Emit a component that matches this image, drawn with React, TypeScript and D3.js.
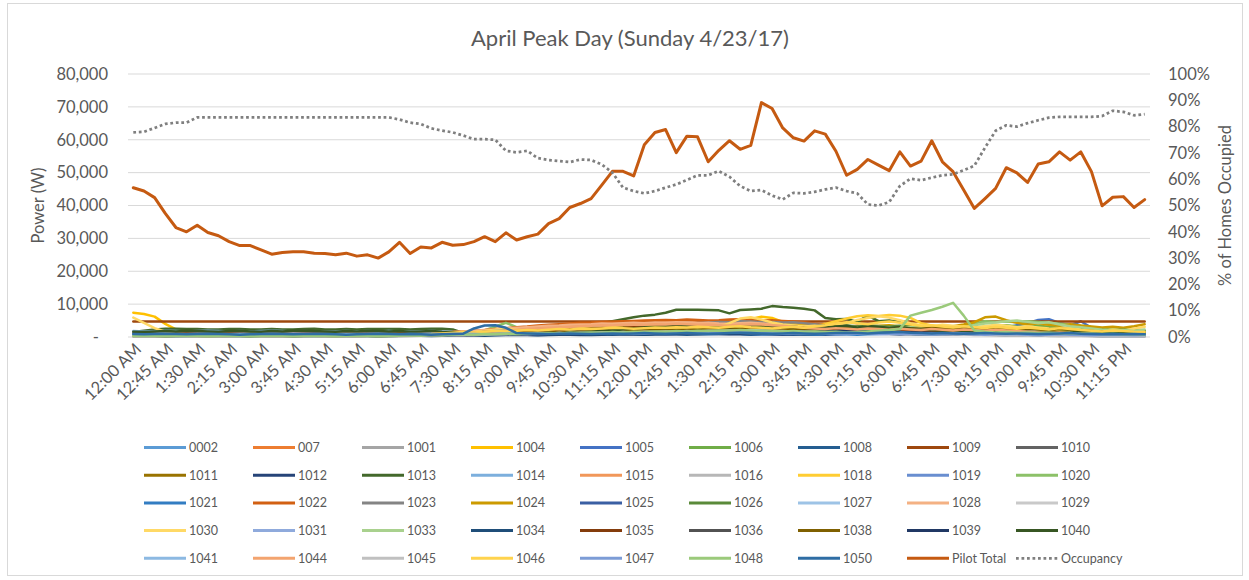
import React from 'react';
import * as d3 from 'd3';

const times = [
  "12:00 AM","12:15 AM","12:30 AM","12:45 AM","1:00 AM","1:15 AM","1:30 AM","1:45 AM","2:00 AM","2:15 AM","2:30 AM","2:45 AM",
  "3:00 AM","3:15 AM","3:30 AM","3:45 AM","4:00 AM","4:15 AM","4:30 AM","4:45 AM","5:00 AM","5:15 AM","5:30 AM","5:45 AM",
  "6:00 AM","6:15 AM","6:30 AM","6:45 AM","7:00 AM","7:15 AM","7:30 AM","7:45 AM","8:00 AM","8:15 AM","8:30 AM","8:45 AM",
  "9:00 AM","9:15 AM","9:30 AM","9:45 AM","10:00 AM","10:15 AM","10:30 AM","10:45 AM","11:00 AM","11:15 AM","11:30 AM","11:45 AM",
  "12:00 PM","12:15 PM","12:30 PM","12:45 PM","1:00 PM","1:15 PM","1:30 PM","1:45 PM","2:00 PM","2:15 PM","2:30 PM","2:45 PM",
  "3:00 PM","3:15 PM","3:30 PM","3:45 PM","4:00 PM","4:15 PM","4:30 PM","4:45 PM","5:00 PM","5:15 PM","5:30 PM","5:45 PM",
  "6:00 PM","6:15 PM","6:30 PM","6:45 PM","7:00 PM","7:15 PM","7:30 PM","7:45 PM","8:00 PM","8:15 PM","8:30 PM","8:45 PM",
  "9:00 PM","9:15 PM","9:30 PM","9:45 PM","10:00 PM","10:15 PM","10:30 PM","10:45 PM","11:00 PM","11:15 PM","11:30 PM","11:45 PM"
];

const leftTicks = [0, 10000, 20000, 30000, 40000, 50000, 60000, 70000, 80000];
const rightTicks = [0, 0.1, 0.2, 0.3, 0.4, 0.5, 0.6, 0.7, 0.8, 0.9, 1];

const pilotTotal = [
  45400,44400,42400,37600,33300,32000,34000,31800,30800,29000,27800,27800,
  26500,25200,25700,25900,25900,25500,25400,25000,25500,24600,25000,24000,
  25900,28800,25400,27400,27100,28800,27900,28100,29000,30500,29000,31700,
  29500,30500,31300,34500,36000,39400,40600,42100,46200,50400,50400,49000,
  58500,62200,63100,56100,61100,60900,53300,56800,59700,57100,58300,71300,
  69500,63600,60600,59600,62700,61700,56500,49200,51000,54000,52300,50600,
  56300,52000,53500,59700,53300,50300,44700,39100,42100,45200,51500,49900,
  47000,52600,53300,56300,53800,56300,50300,39900,42500,42700,39400,41800
];

const occupancy = [
  0.778,0.78,0.795,0.81,0.815,0.815,0.835,0.835,0.835,0.835,0.835,0.835,
  0.835,0.835,0.835,0.835,0.835,0.835,0.835,0.835,0.835,0.835,0.835,0.835,
  0.835,0.827,0.815,0.81,0.793,0.785,0.778,0.766,0.752,0.752,0.75,0.708,
  0.702,0.708,0.68,0.673,0.669,0.665,0.675,0.673,0.656,0.625,0.568,0.555,
  0.546,0.555,0.568,0.58,0.597,0.615,0.615,0.631,0.609,0.574,0.555,0.559,
  0.538,0.523,0.548,0.546,0.552,0.561,0.568,0.555,0.546,0.504,0.5,0.513,
  0.574,0.602,0.596,0.606,0.615,0.619,0.634,0.651,0.72,0.784,0.805,0.8,
  0.813,0.824,0.834,0.837,0.837,0.837,0.837,0.84,0.86,0.856,0.843,0.847
];

const h0002 = [
  1100,1000,900,900,800,800,900,900,800,800,900,900,800,800,800,900,900,800,800,800,900,900,800,800,
  800,900,900,1000,1000,900,900,1000,1100,1000,900,900,1000,1100,1200,1200,1100,1000,1000,1100,1200,1200,1300,1300,
  1300,1200,1200,1300,1300,1200,1200,1100,1100,1200,1200,1300,1300,1200,1200,1100,1100,1000,1000,1100,1100,1200,1200,1100,
  1100,1000,1000,1100,1100,1000,1000,900,900,1000,1000,900,900,1000,1000,900,900,800,800,900,900,800,800,900
];
const h007 = [
  500,500,400,400,400,400,500,500,400,400,300,300,400,400,400,300,300,400,400,400,300,300,400,400,
  400,400,500,500,400,400,500,600,600,700,800,900,1000,1200,1400,1600,1900,2200,2500,2700,2900,3000,3200,3300,
  3400,3500,3400,3300,3500,3600,3400,3300,3200,3400,3500,3300,3100,2800,2500,2200,1900,1700,1600,1800,2000,2300,2500,2400,
  2200,2000,1800,1600,1400,1200,1100,1000,900,900,800,800,700,700,600,600,600,500,500,600,600,500,500,500
];
const h1001 = [
  300,300,300,200,200,300,300,300,200,200,300,300,300,200,200,300,300,300,200,200,300,300,300,200,
  200,300,300,400,400,500,600,700,800,900,900,1000,1100,1200,1200,1300,1400,1500,1600,1700,1800,1900,2000,2100,
  2200,2300,2400,2500,2600,2700,2800,2900,3000,3100,3000,2900,2800,2700,2500,2300,2100,1900,1800,1700,1600,1500,1400,1300,
  1200,1100,1000,900,900,800,800,700,700,600,600,600,500,500,500,400,400,400,300,300,300,300,300,300
];
const h1004 = [
  7400,7000,6200,4000,2300,1500,1200,1000,900,800,800,700,700,800,700,600,600,700,600,600,700,600,600,700,
  600,700,800,700,900,800,1000,1200,1100,1300,1500,1800,1600,1900,2100,2000,2400,2200,2600,2500,2800,3000,2700,2900,
  3100,2800,2600,2900,3300,3000,2700,2500,2900,3800,5500,6200,5800,4600,3900,4100,3600,3200,3000,3400,3100,2800,2600,2900,
  2700,2300,2000,2200,1800,1500,1300,1600,1400,1200,1100,1300,1000,900,1000,800,900,700,800,900,700,600,700,800
];
const h1005 = [
  400,500,400,400,300,400,500,400,300,400,400,300,400,500,400,300,400,400,500,400,300,400,400,300,
  400,500,500,600,700,600,800,900,800,700,600,700,900,1000,800,900,1100,1000,1200,1100,1300,1200,1100,1300,
  1400,1200,1100,1300,1200,1400,1500,1300,1200,1400,1300,1100,1200,1500,1400,1200,1100,1300,1500,1400,1600,1500,1300,1400,
  1600,1800,1500,1700,1600,1400,1500,1800,2000,2400,2900,3600,4200,5200,5400,4300,3500,4800,2800,1200,900,800,700,800
];
const h1006 = [
  600,500,500,600,500,400,500,600,500,500,400,500,600,500,400,500,600,500,500,400,500,600,500,500,
  600,500,600,700,600,800,700,900,1100,1600,2400,2000,1400,1200,1300,1500,1400,1600,1800,1700,1900,2100,2000,2200,
  2400,2300,3300,2600,2200,2400,2300,2100,2500,2700,2400,2200,2600,2800,2500,2300,2100,2400,2600,2900,2700,2500,2800,3000,
  3200,2800,2600,2400,2200,2500,2700,2400,2900,3300,3600,3200,3000,3400,3100,2800,2600,2400,2100,1900,2200,2000,1800,1700
];
const h1008 = [
  700,600,600,700,600,500,600,700,600,600,500,600,700,600,500,600,700,600,600,500,600,700,600,600,
  700,600,700,600,800,700,900,1000,900,800,700,900,800,700,600,700,800,700,600,700,800,700,900,800,
  700,800,900,800,700,800,900,1000,900,800,700,800,900,800,700,900,800,1000,1100,1200,1100,1300,1200,1000,
  900,1100,1300,1200,1000,900,800,900,1000,900,800,700,800,900,800,700,600,700,800,700,600,700,600,700
];
const h1009 = [
  4750,4750,4750,4750,4750,4750,4750,4750,4750,4750,4750,4750,
  4750,4750,4750,4750,4750,4750,4750,4750,4750,4750,4750,4750,
  4750,4750,4750,4750,4750,4750,4750,4750,4750,4750,4750,4750,
  4750,4750,4750,4750,4750,4750,4750,4750,4750,4750,4750,4750,
  4750,4750,4750,4750,4750,4750,4750,4750,4750,4750,4750,4750,
  4750,4750,4750,4750,4750,4750,4750,4750,4750,4750,4750,4750,
  4750,4750,4750,4750,4750,4750,4750,4750,4750,4750,4750,4750,
  4750,4750,4750,4750,4750,4750,4750,4750,4750,4750,4750,4750
];
const h1010 = [
  800,700,800,900,800,700,800,700,800,900,800,700,800,700,800,900,800,700,800,700,800,900,800,700,
  800,700,900,800,1000,900,1100,1200,1100,1300,1500,1400,1600,1900,2200,2500,2800,3100,3400,3600,3800,3700,3900,4100,
  4200,4000,4300,4400,4200,4500,4300,4100,4400,4600,4300,4200,4000,3800,3500,3200,2900,2600,2400,2700,2500,2300,2600,2400,
  2200,2000,2300,2100,1900,1700,1500,1400,1300,1200,1100,1200,1000,900,1000,900,800,900,800,700,800,700,800,700
];
const h1011 = [
  500,400,500,400,500,600,500,400,500,400,500,600,500,400,500,400,500,600,500,400,500,400,500,600,
  500,400,600,500,700,600,800,700,900,800,1000,1200,1100,1300,1500,1400,1600,1800,1700,1900,2100,2000,2200,2400,
  2300,2500,2700,2600,2800,3000,2900,2700,2600,2800,3100,2900,2700,2500,2300,2600,2400,2200,2000,2300,2100,1900,2200,2000,
  1800,2100,1900,1700,2000,1800,1600,1900,1700,1500,1800,1600,1400,1300,1500,1200,1100,1000,900,800,900,800,700,800
];
const h1012 = [
  900,800,800,900,800,700,800,900,800,800,700,800,900,800,700,800,900,800,800,700,800,900,800,800,
  700,800,900,800,900,1000,900,700,600,700,800,900,800,700,800,900,800,700,800,900,1000,900,800,900,
  1000,900,800,900,1000,1100,1000,900,800,900,1000,900,800,700,800,900,800,700,800,900,1000,1100,1000,900,
  800,900,1000,900,800,700,800,900,800,700,800,900,800,700,800,700,600,700,800,700,600,700,800,700
];
const h1013 = [
  1500,1900,2300,2500,2500,2400,2400,2300,2300,2400,2400,2300,
  2300,2400,2300,2300,2400,2500,2300,2300,2400,2300,2400,2400,
  2400,2400,2300,2400,2500,2500,2300,1200,1000,1500,1500,1400,
  1300,1300,1400,1500,1800,2300,2900,3500,4200,4800,5400,6000,
  6500,6800,7400,8300,8300,8300,8200,8100,7200,8200,8400,8600,
  9400,9100,8900,8600,8100,5800,5400,5500,4600,6500,4800,5000,
  4600,3600,2800,2400,1900,1800,1600,1500,1400,1500,1600,1500,
  1400,1500,1500,1400,1500,1400,1300,1400,1500,1400,1300,1300
];
const h1014 = [
  1800,1700,1800,1900,1800,1700,1800,1900,1800,1700,1800,1700,1800,1900,1800,1700,1800,1700,1600,1700,1800,1700,1800,1700,
  1800,1700,1600,1700,1800,1700,1500,1200,1100,1000,1100,1200,1300,1200,1100,1200,1300,1400,1300,1200,1400,1500,1400,1600,
  1500,1700,1600,1800,1700,1600,1500,1700,1600,1800,1700,1900,1800,1600,1700,1500,1600,1400,1500,1700,1600,1800,1700,1500,
  1600,1400,1500,1300,1400,1600,1500,1700,1600,1800,1700,1900,1800,1600,1700,1500,1400,1600,1500,1300,1400,1200,1300,1400
];
const h1015 = [
  400,300,400,300,400,500,400,300,400,300,400,500,400,300,400,300,400,500,400,300,400,300,400,500,
  400,500,600,500,700,800,900,1100,1300,1500,1800,2000,2200,2500,2700,3000,3200,3500,3700,3900,4000,4200,4100,4300,
  4400,4200,4500,4300,4600,4400,4200,4500,4300,4100,4400,4200,3900,3700,3400,3100,2800,2500,2300,2100,2400,2200,2000,1800,
  1700,1900,1600,1500,1400,1300,1200,1400,1300,1100,1000,1200,1100,900,800,700,800,600,700,600,500,600,500,400
];
const h1016 = [
  200,300,300,200,200,300,200,200,300,300,200,200,300,200,300,300,200,200,300,200,200,300,300,200,
  300,200,400,500,400,600,500,700,600,800,900,700,800,1000,900,1100,1200,1000,1300,1100,1400,1200,1500,1300,
  1600,1400,1700,1500,1800,1600,1900,1700,2000,1800,2100,1900,1700,1800,1600,1500,1700,1400,1300,1500,1200,1100,1300,1000,
  1100,900,1000,800,900,700,800,600,700,500,600,400,500,600,400,300,400,500,300,200,300,400,300,200
];
const h1018 = [
  600,500,600,700,600,500,600,500,400,500,600,500,600,700,600,500,600,500,400,500,600,500,600,700,
  600,700,800,700,900,800,1000,1200,1400,1300,1600,1800,1700,2000,2200,2100,2400,2600,2500,2700,2900,2800,3000,3200,
  3100,3300,3000,2800,3100,2900,2700,2500,2800,3000,3200,3500,3300,3100,3400,3200,3500,4000,4800,5600,6300,6600,6400,6700,
  6500,5800,4200,3500,3000,2600,2300,2800,3200,2900,2600,2300,2700,2400,2100,1900,1700,2000,1800,1500,1300,1100,1000,900
];
const h1019 = [
  600,700,600,500,600,700,600,500,600,700,600,500,600,700,800,700,600,500,600,700,600,500,600,700,
  700,800,700,900,800,1000,900,1100,1000,900,800,900,1000,1100,1000,1200,1100,1300,1200,1400,1300,1500,1400,1600,
  1500,1700,1600,1800,1700,1900,1800,1700,1600,1800,1700,1900,1800,1600,1500,1700,1600,1800,1700,1900,2000,1800,1700,1900,
  1800,2000,1900,1700,1800,1600,1700,1500,1600,1400,1500,1300,1400,1200,1300,1100,1200,1000,1100,900,1000,800,900,800
];
const h1020 = [
  800,700,800,900,800,700,800,900,800,700,800,900,800,700,800,900,800,700,800,900,800,700,800,900,
  800,700,900,800,1000,900,1200,1400,1500,2000,3200,4300,3000,2400,2000,1800,1600,1700,1900,1800,2000,2200,2100,2300,
  2200,2400,2600,2300,2500,2700,2400,2200,2600,2800,2500,2300,2700,2900,2600,2400,2800,3000,2700,2500,2900,3100,2800,2600,
  3000,2700,2500,2300,2600,2900,3300,4200,4800,4600,4700,4500,4800,4600,4300,4000,3700,3400,3000,2600,2200,2400,2100,1900
];
const h1021 = [
  500,400,400,500,600,500,400,500,500,600,500,400,500,500,400,600,500,400,400,500,600,500,400,500,
  500,600,700,600,500,600,700,800,700,600,700,800,900,800,700,800,900,1000,900,800,900,1000,1100,1000,
  900,1000,1100,1200,1100,1000,900,1000,1100,1000,900,800,900,1000,900,800,700,800,900,800,700,800,900,1000,
  1100,1000,900,800,900,1000,1100,1000,900,800,700,800,900,800,700,600,700,600,500,600,500,400,500,600
];
const h1022 = [
  1000,900,1000,1100,1000,900,1000,900,800,900,1000,900,1000,1100,1000,900,800,900,1000,900,1000,1100,1000,900,
  1000,1100,1200,1100,1300,1400,1500,1700,1900,2100,2400,2700,3000,3200,3500,3700,3900,4100,4300,4400,4600,4700,4800,4900,
  5000,5100,5200,5100,5300,5200,5000,5100,5300,5400,5200,5000,5100,4900,4700,4500,4000,3600,3300,3100,3400,3200,3000,3300,
  3100,2900,3200,3000,2800,3100,2900,2700,3000,2800,2600,2900,2700,2500,2300,2600,2400,2200,2000,1800,1600,1500,1400,1300
];
const h1023 = [
  600,500,600,700,600,500,600,500,600,700,600,500,600,500,600,700,600,500,600,500,600,700,600,500,
  600,700,800,700,900,1000,1100,1300,1500,1700,1900,2100,2300,2500,2700,2900,3000,3200,3400,3500,3600,3800,3700,3900,
  4000,4100,3900,4200,4300,4100,4400,4600,4500,4800,4700,4500,4600,4400,4500,4200,3900,3500,3200,2900,2700,2500,2300,2100,
  2000,1900,1800,1700,1600,1500,1400,1300,1200,1100,1000,1100,1000,900,800,900,800,700,800,700,600,700,600,500
];
const h1024 = [
  900,800,900,1000,900,800,900,800,900,1000,900,800,900,800,700,800,900,800,900,1000,900,800,900,800,
  900,1000,1100,1000,1200,1100,1300,1500,1400,1600,1800,1700,1900,2100,2000,2200,2400,2300,2500,2700,2600,2800,3000,2900,
  3100,3000,2800,3100,2900,2700,3000,2800,3200,3500,3300,3100,2900,3200,3000,2800,3100,2900,3300,3100,2900,3200,3400,3600,
  3300,3100,2900,2700,3000,3300,3800,4500,6000,6200,5100,4300,3800,4100,3700,3400,3900,3500,3200,2900,3100,2800,3300,3900
];
const h1025 = [
  300,400,300,400,500,400,300,400,300,400,500,400,300,400,300,400,500,400,300,400,300,400,500,400,
  400,500,400,600,500,700,600,800,700,900,800,1000,900,800,1000,900,1100,1000,1200,1100,1300,1200,1400,1300,
  1500,1400,1300,1500,1400,1600,1500,1400,1300,1500,1400,1600,1700,1500,1400,1600,1800,2000,2300,2100,1900,2200,2000,1800,
  1900,1700,1600,1800,1500,1400,1600,1300,1200,1400,1100,1000,1200,900,1000,800,700,900,600,700,500,600,400,500
];
const h1026 = [
  700,600,700,800,700,600,700,600,700,800,700,600,700,600,700,800,700,600,700,600,700,800,700,600,
  700,800,900,800,1000,900,1100,1000,1200,1100,1300,1500,1400,1600,1800,1700,1900,2100,2300,2500,2700,2600,2900,3100,
  3000,3200,3400,3300,3500,3300,3100,3400,3200,3000,3300,3100,2900,3200,3000,2800,3100,3400,3700,3500,3200,3600,3300,3100,
  3400,3200,3000,2800,3100,2900,2700,3000,2800,2600,2900,2700,2500,2800,2600,2400,2200,2500,2300,2100,1900,2200,2000,1800
];
const h1027 = [
  1200,1100,1200,1300,1200,1100,1200,1100,1000,1100,1200,1100,1200,1300,1200,1100,1000,1100,1200,1100,1200,1300,1200,1100,
  1000,1100,1200,1100,1000,1100,900,800,700,800,900,800,900,1000,900,1000,1100,1000,1200,1100,1300,1200,1400,1300,
  1200,1400,1300,1500,1400,1300,1200,1400,1300,1500,1400,1300,1200,1100,1300,1200,1400,1300,1200,1100,1300,1200,1100,1000,
  1100,1200,1000,1100,1200,1300,1200,1100,1000,1200,1100,1300,1200,1100,1000,1200,1100,1000,1200,1100,1000,1100,1200,1100
];
const h1028 = [
  700,600,700,600,500,600,700,600,500,600,700,600,700,800,700,600,500,600,700,600,500,600,700,600,
  700,800,900,1000,1100,1300,1500,1700,1900,2100,2300,2600,2800,3000,3200,3400,3500,3700,3800,3900,4100,4000,4200,4300,
  4200,4400,4300,4500,4400,4200,4300,4100,4000,4200,4300,4100,3900,3600,3300,3000,2700,2500,2300,2600,2400,2200,2500,2300,
  2100,2400,2200,2000,2300,2100,1900,2200,2000,1800,2100,1900,1700,1500,1300,1400,1200,1000,1100,900,800,900,700,800
];
const h1029 = [
  400,300,400,500,400,300,400,500,400,300,400,300,400,500,400,300,400,500,400,300,400,300,400,500,
  400,500,600,500,700,600,800,700,900,800,1000,900,1100,1000,1200,1100,1300,1200,1400,1300,1500,1400,1600,1500,
  1700,1600,1800,1700,1900,1800,2000,2200,2800,3500,3900,3400,2600,2100,1900,2000,1800,1700,1900,1800,1600,1700,1500,1400,
  1600,1500,1300,1400,1200,1300,1100,1200,1000,1100,900,1000,800,900,700,800,600,700,500,600,400,500,400,300
];
const h1030 = [
  5900,4300,2700,1600,1100,900,800,700,800,700,600,700,600,700,800,700,600,700,800,700,600,700,600,700,
  800,700,900,800,1000,900,1100,1300,1500,1800,2200,2500,2300,2100,1900,2000,2200,2400,2600,2500,2700,2900,2800,3000,
  2900,3100,3000,2800,3100,2900,3200,3000,4200,5600,6000,5300,4400,3800,3500,3200,3400,3100,3600,4300,5200,5800,6300,5900,
  5100,4200,3600,3300,3700,3400,3100,2800,3300,3700,3400,3000,3200,2900,2600,2400,2700,2300,2100,1900,2200,2000,2500,3100
];
const h1031 = [
  900,1000,900,800,900,1000,900,800,900,1000,1100,1000,900,800,900,1000,900,800,900,1000,900,800,900,1000,
  900,800,900,1000,1100,1000,900,1000,1100,1200,1100,1000,1100,1200,1300,1200,1100,1200,1300,1400,1300,1200,1300,1400,
  1500,1400,1300,1400,1500,1600,1500,1400,1500,1600,1700,1600,1500,1400,1500,1600,1500,1400,1300,1400,1500,1400,1300,1200,
  1300,1400,1300,1200,1100,1200,1300,1200,1100,1000,1100,1200,1100,1000,900,1000,1100,1000,900,800,900,1000,900,800
];
const h1033 = [
  500,400,500,600,500,400,500,600,500,400,500,600,500,400,500,600,500,400,500,600,500,400,500,600,
  500,600,700,600,800,700,900,1100,1300,1600,1900,2100,1900,1700,1600,1400,1600,1500,1700,1600,1800,1700,1900,1800,
  2000,1900,2100,2000,2200,2100,2300,2200,2400,2300,2500,2400,2600,2500,2700,2600,2800,2700,2900,3200,3000,2800,3100,2900,
  2700,3000,2800,2600,2400,2700,3000,3600,4100,4400,4800,5000,4600,4200,4500,3800,3300,3000,2600,2200,1900,2100,1800,2300
];
const h1034 = [
  300,400,300,200,300,400,300,200,300,400,300,200,300,400,300,200,300,400,300,200,300,400,300,200,
  300,400,500,400,300,400,500,600,500,400,500,600,700,600,500,600,700,800,700,600,700,800,900,800,
  700,800,900,1000,900,800,900,1000,1100,1000,900,1000,1100,1000,900,800,900,1000,1100,1200,1400,1500,1300,1100,
  1000,900,800,900,1000,900,800,700,800,700,600,700,600,500,600,500,400,500,400,300,400,300,400,300
];
const h1035 = [
  1000,1100,1000,900,1000,1100,1000,900,1000,1100,1000,900,1000,1100,1000,900,1000,1100,1000,900,1000,1100,1000,900,
  1000,1100,1200,1100,1000,1200,1300,1400,1300,1500,1600,1800,1700,1900,2100,2000,2200,2400,2300,2500,2700,2600,2800,3000,
  2900,3100,3300,3200,3400,3600,3500,3300,3200,3400,3600,3400,3200,3000,2800,2600,2400,2200,2300,2100,2000,2200,2100,1900,
  1800,2000,1900,1700,1600,1800,1700,1500,1400,1600,1500,1300,1200,1400,1300,1100,1000,1200,1100,900,1000,1100,1000,900
];
const h1036 = [
  600,500,600,700,600,500,600,700,600,500,600,700,600,500,600,700,600,500,600,700,600,500,600,700,
  600,700,800,700,900,800,1000,900,1100,1000,1200,1100,1300,1200,1400,1300,1500,1400,1600,1500,1700,1600,1800,1700,
  1900,1800,2000,1900,2100,2000,2200,2100,2300,2200,2100,2000,1900,2000,1800,1900,1700,1800,1600,1700,1500,1600,1400,1500,
  1300,1400,1200,1300,1100,1200,1000,1100,900,1000,800,900,700,800,600,700,500,600,500,600,500,600,500,600
];
const h1038 = [
  400,500,400,300,400,500,400,300,400,500,400,300,400,500,400,300,400,500,400,300,400,500,400,300,
  400,500,600,500,700,600,800,900,800,1000,1100,1000,1200,1300,1200,1400,1500,1400,1600,1700,1600,1800,1900,1800,
  2000,2100,2000,2200,2300,2200,2400,2500,2400,2600,2700,2600,2500,2400,2600,2500,2300,2700,3100,2900,2700,3000,2800,2600,
  2900,2700,2500,2800,2600,2400,2700,2500,2300,2600,2400,2200,2500,2300,2100,2400,2200,2000,1800,1600,1400,1200,1000,900
];
const h1039 = [
  500,600,500,400,500,600,500,400,500,600,500,400,500,600,500,400,500,600,500,400,500,600,500,400,
  500,600,500,700,600,800,700,600,700,800,700,900,800,700,900,800,1000,900,800,1000,900,1100,1000,900,
  1100,1000,1200,1100,1000,1200,1100,1300,1200,1100,1300,1200,1100,1000,1200,1100,1300,1500,1800,2100,1900,2300,2000,1700,
  1500,1400,1300,1200,1100,1300,1200,1000,900,1100,1000,800,900,700,800,600,700,500,600,400,500,600,500,400
];
const h1040 = [
  1600,1500,1700,1800,1700,1900,1800,1700,1600,1800,1900,1700,1600,1800,1700,1900,2000,1800,1700,1600,1800,1700,1900,1800,
  1700,1800,1600,1700,1800,1600,1500,900,800,900,1000,1100,900,1000,1100,1200,1100,1300,1400,1600,1800,2000,2300,2600,
  2900,3100,3300,3200,3400,3300,3100,3200,3000,3300,3500,3400,3200,3000,3100,2800,2600,2900,3200,3400,2900,3300,3100,2800,
  3000,2600,2300,2100,1900,1800,2000,1700,1600,1800,1500,1700,1600,1400,1500,1300,1400,1600,1500,1300,1200,1400,1300,1200
];
const h1041 = [
  800,700,800,900,800,700,800,700,600,700,800,700,800,900,800,700,600,700,800,700,800,900,800,700,
  800,700,800,900,1000,900,800,700,800,900,1000,1100,1000,900,1000,1100,1200,1100,1000,1100,1200,1300,1200,1100,
  1200,1300,1400,1300,1200,1300,1400,1500,1400,1300,1200,1300,1400,1300,1200,1100,1200,1300,1200,1100,1000,1100,1200,1100,
  1000,1100,1000,900,1000,1100,1000,900,800,900,1000,900,800,700,800,900,800,700,600,700,800,700,600,700
];
const h1044 = [
  300,400,300,400,500,400,300,400,300,400,500,400,300,400,300,400,500,400,300,400,300,400,500,400,
  400,500,600,700,800,900,1000,1200,1400,1600,1800,2000,2200,2400,2600,2800,2900,3100,3300,3400,3600,3500,3700,3800,
  3700,3900,3800,4000,3900,3700,3800,3600,3500,3700,3900,3800,3600,3400,3100,2800,2600,2400,2700,2500,2300,2600,2400,2200,
  2500,2300,2100,2400,2200,2000,2300,2100,1900,2200,2000,1800,1600,1400,1200,1300,1100,900,1000,800,700,800,600,700
];
const h1045 = [
  200,300,200,300,400,300,200,300,200,300,400,300,200,300,200,300,400,300,200,300,200,300,400,300,
  300,400,500,400,600,500,700,600,800,700,900,800,1000,900,1100,1000,1200,1100,1300,1200,1400,1300,1500,1400,
  1600,1500,1700,1600,1800,1700,1900,1800,2000,1900,2100,2000,1900,1800,1700,1600,1500,1400,1300,1400,1200,1300,1100,1200,
  1000,1100,900,1000,800,900,700,800,600,700,500,600,400,500,300,400,300,400,300,200,300,200,300,200
];
const h1046 = [
  500,600,500,400,500,600,500,400,500,600,500,400,500,600,500,400,500,600,500,400,500,600,500,400,
  500,600,700,800,900,1100,1300,1500,1400,1600,1800,1700,1900,2100,2000,2200,2400,2300,2500,2400,2600,2800,2700,2500,
  2700,2900,2800,3000,2900,3100,3000,2800,3100,3300,3000,2800,2600,2900,3100,2800,3200,3600,4100,4500,4200,3900,4400,4700,
  4300,3800,3400,3600,3200,2900,3300,3000,2700,3100,2800,2500,2900,2600,2300,2700,2400,2100,1900,1700,2000,1800,1600,1500
];
const h1047 = [
  700,600,700,800,700,600,700,800,700,600,500,600,700,800,700,600,700,800,700,600,500,600,700,800,
  700,800,900,800,700,800,900,1000,900,800,900,1000,1100,1000,900,1000,1100,1200,1100,1000,1100,1200,1300,1200,
  1100,1200,1300,1400,1300,1200,1100,1200,1300,1400,1300,1200,1100,1000,1100,1200,1100,1000,900,1000,1100,1000,900,1000,
  1100,1000,900,800,900,1000,900,800,700,800,900,800,700,600,700,800,700,600,500,600,700,600,500,600
];
const h1048 = [
  300,400,300,200,300,400,300,200,300,400,300,200,300,400,300,200,300,400,300,200,300,400,300,200,
  300,400,500,400,600,500,700,800,700,900,800,1000,900,1100,1000,1200,1100,1300,1200,1400,1300,1500,1400,1600,
  1500,1700,1600,1800,1700,1900,1800,2000,1900,2100,2000,1900,1800,1700,1800,1600,1700,1500,1600,1400,1500,1700,1900,2100,
  2400,6500,7400,8200,9200,10400,6500,2000,1600,1400,1500,1300,1400,1200,1300,1100,1200,1000,1100,900,1000,800,900,700
];
const h1050 = [
  900,800,900,1000,900,800,900,1000,900,800,700,800,900,1000,900,800,900,1000,900,800,700,800,900,1000,
  900,800,900,800,700,800,900,1000,2600,3500,3600,2800,1200,1100,1000,900,1000,1100,1000,900,1000,1100,1000,1100,
  1200,1100,1000,1100,1200,1100,1000,1100,1200,1300,1200,1100,1000,1100,1200,1100,1000,1100,1200,1300,1200,1100,1300,1400,
  1500,1300,1200,1100,1200,1100,1000,1100,1200,1100,1000,1100,1000,900,1000,1100,1200,1000,900,800,900,800,900,800
];

const homeIds = [
  "0002","007","1001","1004","1005","1006","1008","1009","1010",
  "1011","1012","1013","1014","1015","1016","1018","1019","1020",
  "1021","1022","1023","1024","1025","1026","1027","1028","1029",
  "1030","1031","1033","1034","1035","1036","1038","1039","1040",
  "1041","1044","1045","1046","1047","1048","1050"
];
const homeColors = [
  "#5B9BD5","#ED7D31","#A5A5A5","#FFC000","#4472C4","#70AD47","#255E91","#9E480E","#636363",
  "#997300","#264478","#43682B","#7CAFDD","#F1975A","#B7B7B7","#FFCD33","#698ED0","#8CC168",
  "#327DC2","#D26012","#848484","#CC9A00","#3A5FA3","#5A8A39","#9DC3E6","#F4B183","#C9C9C9",
  "#FFD966","#8FAADC","#A9D18E","#1F4E79","#843C0C","#525252","#7F6000","#203864","#375623",
  "#8CB9E2","#F3A46F","#C0C0C0","#FFD34D","#7C9CD6","#9BCA7B","#2E6DA4"
];
const homeValues = [
  h0002,h007,h1001,h1004,h1005,h1006,h1008,h1009,h1010,
  h1011,h1012,h1013,h1014,h1015,h1016,h1018,h1019,h1020,
  h1021,h1022,h1023,h1024,h1025,h1026,h1027,h1028,h1029,
  h1030,h1031,h1033,h1034,h1035,h1036,h1038,h1039,h1040,
  h1041,h1044,h1045,h1046,h1047,h1048,h1050
];

const pilotColor = "#C55A11";
const occColor = "#7F7F7F";
const textColor = "#595959";
const FONT = "Lato, 'Open Sans', sans-serif";

export default function App() {
  const W = 1249, H = 580;
  const plotL = 128, plotR = 1150, plotT = 74, plotB = 337;
  const x = d3.scalePoint<string>().domain(times).range([plotL, plotR]).padding(0.5);
  const yL = d3.scaleLinear().domain([0, 80000]).range([plotB, plotT]);
  const yR = d3.scaleLinear().domain([0, 1]).range([plotB, plotT]);
  const lineL = d3.line<number>().x((_, i) => x(times[i]) as number).y(d => yL(d));
  const lineR = d3.line<number>().x((_, i) => x(times[i]) as number).y(d => yR(d));
  const fmtL = (v: number) => (v === 0 ? "-" : d3.format(",")(v));
  const fmtR = d3.format(".0%");

  const legendItems = [
    ...homeIds.map((id, k) => ({ name: id, color: homeColors[k], dotted: false })),
    { name: "Pilot Total", color: pilotColor, dotted: false },
    { name: "Occupancy", color: occColor, dotted: true },
  ];
  const legX0 = 144, legDX = 109, legY0 = 447.5, legDY = 27.7;

  return (
    <svg width={W} height={H} style={{ position: 'absolute', left: 0, top: 0, background: '#fff' }} fontFamily={FONT}>
      <rect x={7.5} y={3.5} width={1235} height={572} fill="#fff" stroke="#D9D9D9" strokeWidth={1} />
      <text x={630} y={46} textAnchor="middle" fontSize={22} fill={textColor}>April Peak Day (Sunday 4/23/17)</text>

      {leftTicks.map(t => (
        <line key={'g' + t} x1={plotL} x2={plotR} y1={yL(t)} y2={yL(t)} stroke="#D9D9D9" strokeWidth={1} />
      ))}
      {leftTicks.map(t => (
        <text key={'l' + t} x={t === 0 ? 99 : 108} y={yL(t)} dy="0.35em" textAnchor="end" fontSize={16.5} fill={textColor}>{fmtL(t)}</text>
      ))}
      {rightTicks.map(t => (
        <text key={'r' + t} x={1168} y={yR(t)} dy="0.35em" textAnchor="start" fontSize={16.5} fill={textColor}>{fmtR(t)}</text>
      ))}
      <text transform={`translate(38,${(plotT + plotB) / 2}) rotate(-90)`} textAnchor="middle" dy="0.35em" fontSize={16.5} fill={textColor}>Power (W)</text>
      <text transform={`translate(1225,${(plotT + plotB) / 2}) rotate(-90)`} textAnchor="middle" dy="0.35em" fontSize={16.5} fill={textColor}>% of Homes Occupied</text>

      {times.map((t, i) => i % 3 === 0 ? (
        <text key={'x' + i} transform={`translate(${(x(t) as number) + 5},${plotB + 9}) rotate(-45)`} textAnchor="end" dy="0.35em" fontSize={16.5} fill={textColor}>{t}</text>
      ) : null)}

      <g fill="none" strokeLinejoin="round" strokeLinecap="round">
        {homeValues.map((vals, k) => (
          <path key={homeIds[k]} d={lineL(vals) as string} stroke={homeColors[k]} strokeWidth={2.5} />
        ))}
        <path d={lineL(pilotTotal) as string} stroke={pilotColor} strokeWidth={3} />
        <path d={lineR(occupancy) as string} stroke={occColor} strokeWidth={2.75} strokeDasharray="2.75 2.75" strokeLinecap="butt" />
      </g>

      {legendItems.map((it, k) => {
        const col = k % 9, row = Math.floor(k / 9);
        const lx = legX0 + col * legDX, ly = legY0 + row * legDY;
        return (
          <g key={'lg' + k}>
            <line x1={lx} x2={lx + 42} y1={ly} y2={ly} stroke={it.color} strokeWidth={it.dotted ? 2.75 : 3}
              strokeDasharray={it.dotted ? "2.75 2.75" : undefined} />
            <text x={lx + 45} y={ly} dy="0.35em" fontSize={12.5} fill={textColor}>{it.name}</text>
          </g>
        );
      })}
    </svg>
  );
}
